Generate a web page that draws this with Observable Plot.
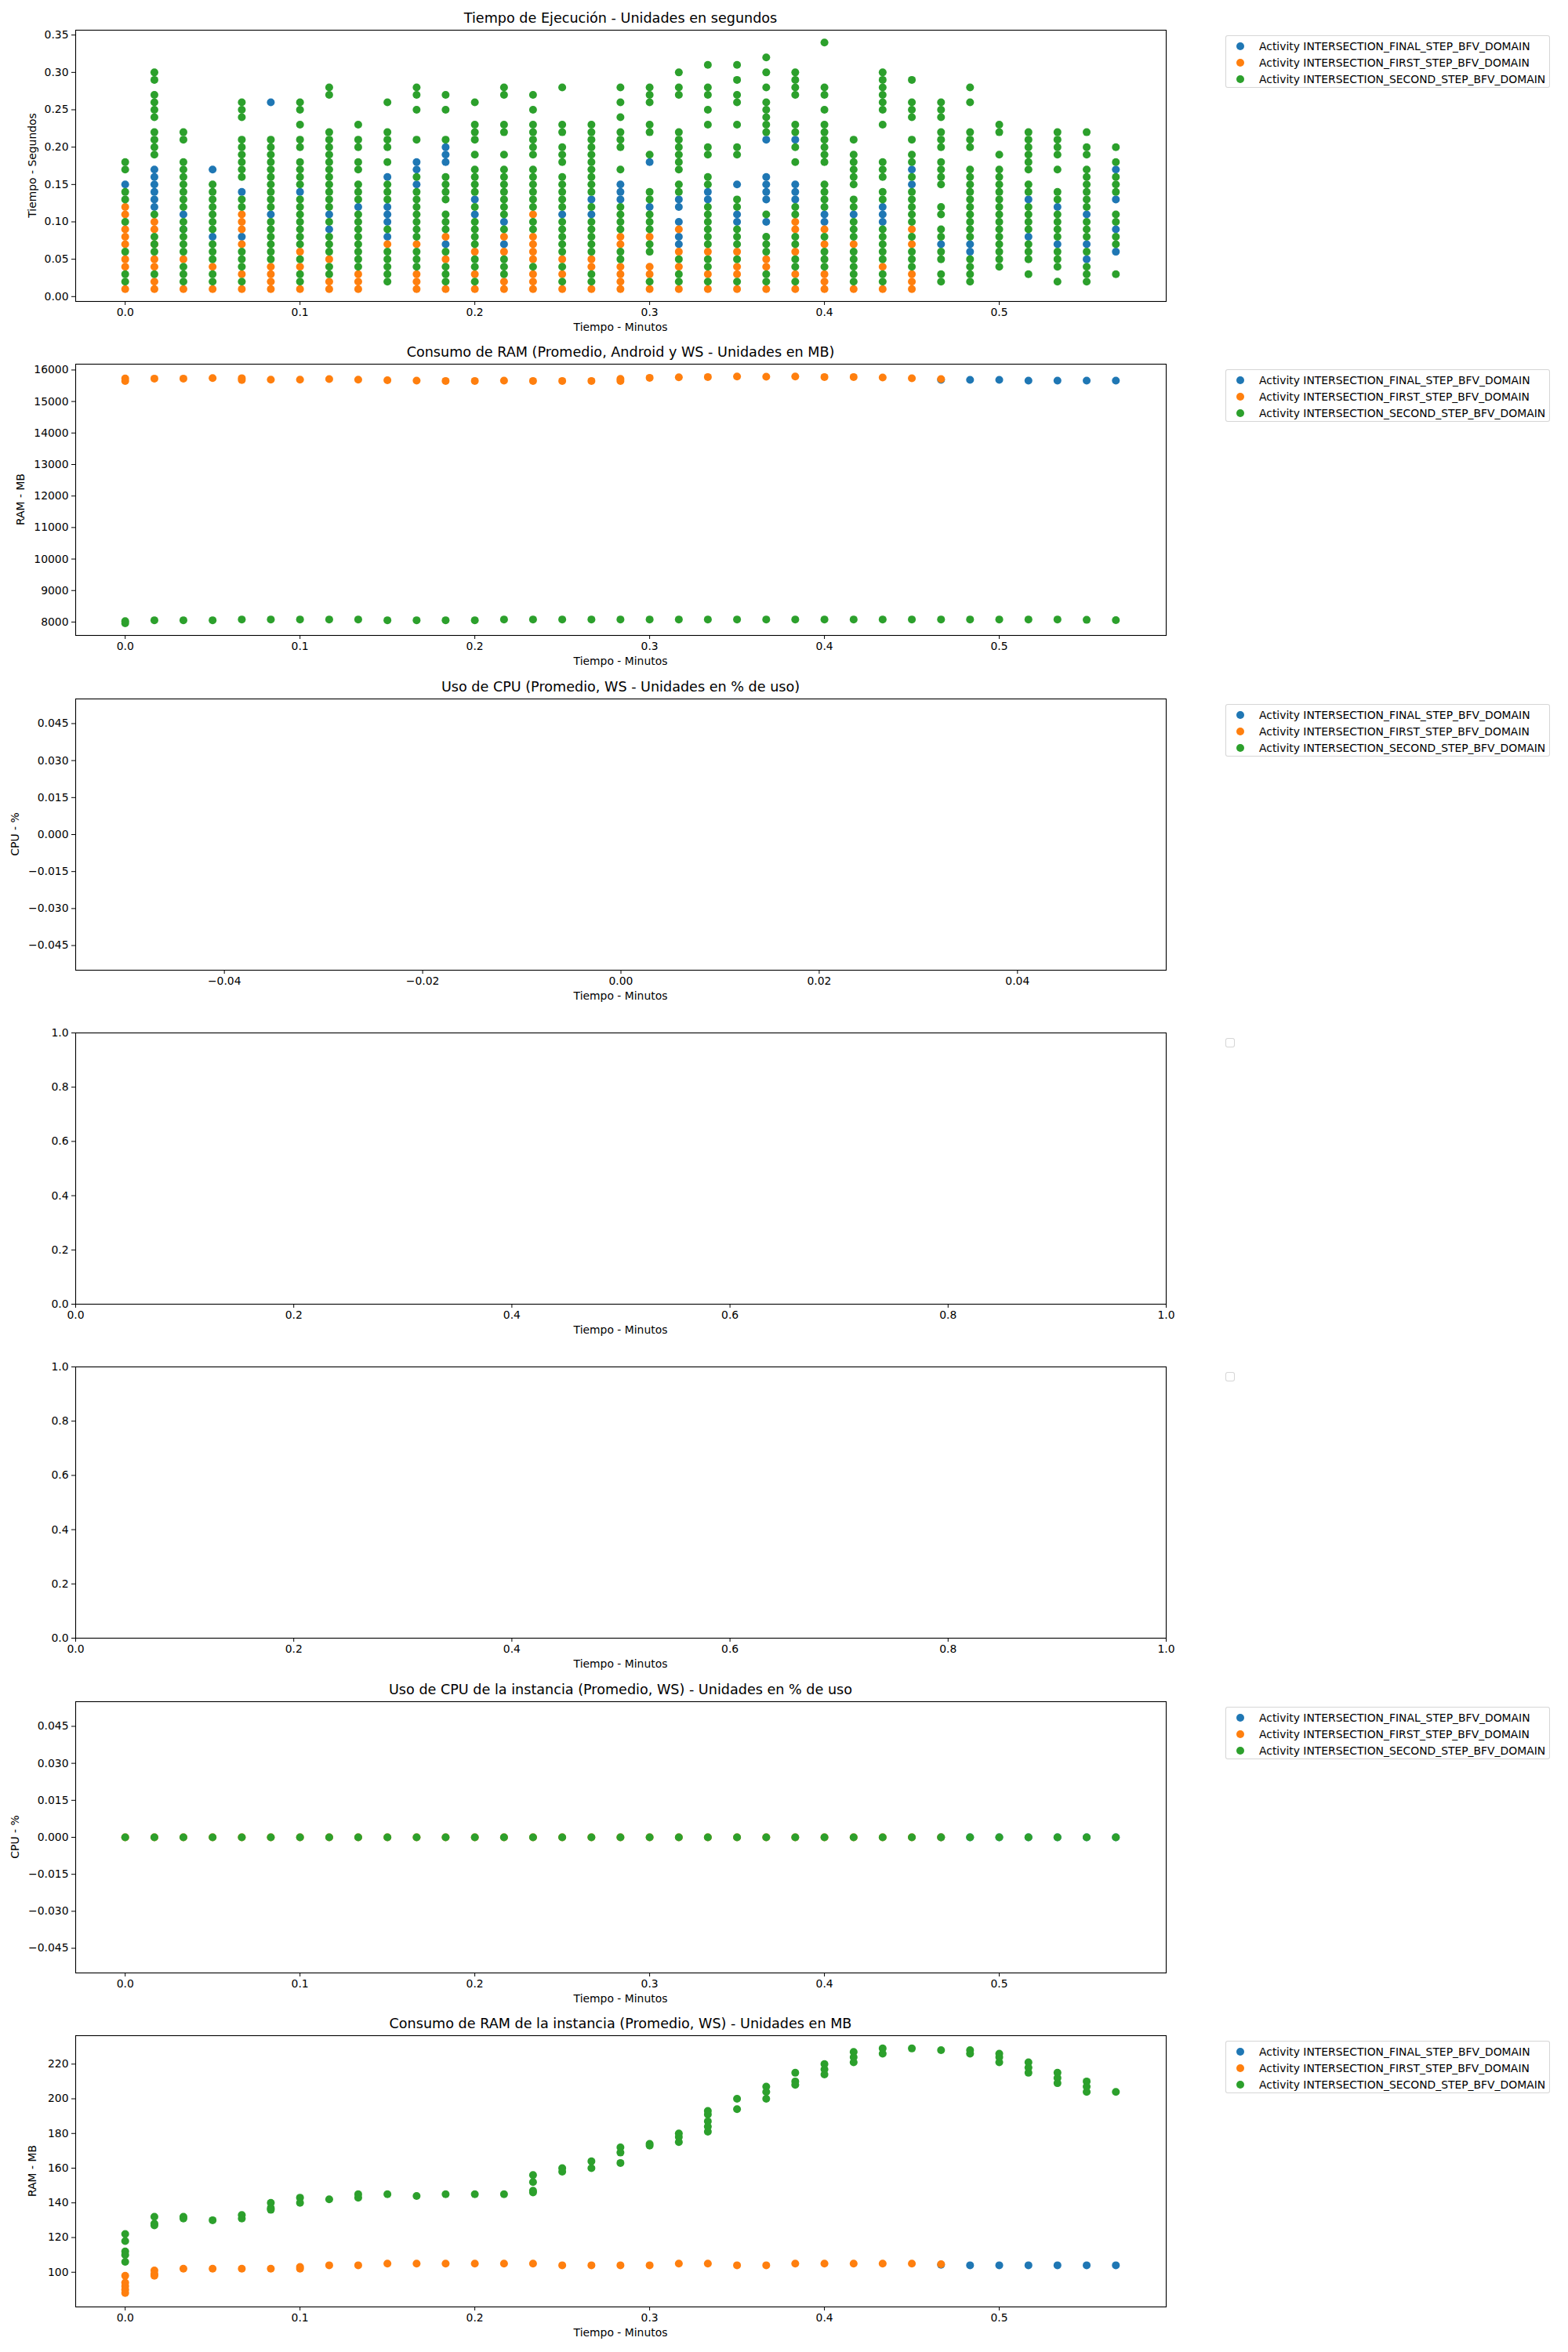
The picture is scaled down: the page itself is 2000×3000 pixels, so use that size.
<!DOCTYPE html>
<html><head><meta charset="utf-8">
<script src="https://cdn.jsdelivr.net/npm/d3@7"></script>
<script src="https://cdn.jsdelivr.net/npm/@observablehq/plot@0.6"></script>
<style>
html,body{margin:0;padding:0;background:#fff;overflow:hidden;}
#root{position:relative;width:2000px;height:3000px;background:#fff;font-family:"DejaVu Sans",sans-serif;color:#000;}
.lbl{position:absolute;white-space:nowrap;transform:translate(-50%,-50%);line-height:1;}
.ttl{font-size:17.6px;}
.axl{font-size:13.9px;}
.rot{transform:translate(-50%,-50%) rotate(-90deg);}
</style></head>
<body><div id="root"></div>
<script>
// ---------- DATA ----------
const minutos = [0, 0.0167, 0.0333, 0.05, 0.0667, 0.0833, 0.1, 0.1167, 0.1333, 0.15, 0.1667, 0.1833, 0.2, 0.2167, 0.2333, 0.25, 0.2667, 0.2833, 0.3, 0.3167, 0.3333, 0.35, 0.3667, 0.3833, 0.4, 0.4167, 0.4333, 0.45, 0.4667, 0.4833, 0.5, 0.5167, 0.5333, 0.55, 0.5667];
const actividades = ["Activity INTERSECTION_FINAL_STEP_BFV_DOMAIN", "Activity INTERSECTION_FIRST_STEP_BFV_DOMAIN", "Activity INTERSECTION_SECOND_STEP_BFV_DOMAIN"];

// Tiempo de ejecución (centésimas de segundo) por columna de tiempo
const tiempoFinal = [[15],[17,16,15,14,13,12],[11,9],[17,8],[14,8],[26,11],[14],[11,9],[12],[16,12,11,10,8],[18,17,15],[20,19,18,7],[13,11],[10,7],[],[11],[13,11],[15,14,13],[18,12],[13,12,10,8,7],[14,13],[15,11,10],[21,16,15,14,13,10],[21,15,14,13],[11,10],[11],[12,11,10],[17,15],[7],[7,6],[],[13,8],[12,7],[11,7,5],[17,13,9,6]];
const tiempoFirst = [[12,11,9,8,7,5,4,1],[10,9,7,5,4,2,1],[5,1],[4,1],[11,10,9,7,3,1],[4,3,2,1],[6,4,1],[5,2,1],[3,2,1],[7],[7,3,2,1],[8,5,1],[6,3,1],[8,6,2,1],[11,8,7,6,5,3,2,1],[5,3,1],[5,4,1],[8,7,4,3,2,1],[8,4,3,1],[9,6,4,1],[6,3,1],[6,4,3,1],[5,4,1],[10,9,6,3,1],[9,7,3,2,1],[7,1],[4,1],[9,7,3,2,1],[],[],[],[],[],[],[]];
const tiempoSecond = [
 [18,17,14,13,10,6,3,2],
 [30,29,27,26,25,24,22,21,20,19,11,8,7,6,3],
 [22,21,18,17,16,15,14,13,12,10,9,8,7,6,4,3,2],
 [15,14,13,12,11,10,9,7,6,5,3,2],
 [26,25,24,21,20,19,18,17,16,13,12,6,5,4,2],
 [21,20,19,18,17,16,15,14,13,12,10,9,8,7,6,5],
 [26,25,23,21,20,18,17,16,15,13,12,11,10,9,8,7,5,3,2],
 [28,27,22,21,20,19,18,17,16,15,14,13,12,10,8,7,6,4,3],
 [23,21,20,18,17,15,14,13,11,10,9,8,7,6,5,4],
 [26,22,21,20,18,15,14,13,9,6,5,4,3,2],
 [28,27,25,21,16,14,13,12,11,10,9,8,6,5,4],
 [27,25,21,16,15,14,13,11,10,9,6,4,3,2],
 [26,23,22,21,19,17,16,15,14,12,10,9,8,7,5,4,2],
 [28,27,23,22,19,17,16,15,14,13,12,11,9,5,4,3],
 [27,25,23,22,21,20,19,17,16,15,14,13,12,10,9,4],
 [28,23,22,20,19,18,16,15,14,13,12,10,9,8,7,6,4,2],
 [23,22,21,20,19,18,17,16,15,14,12,10,9,8,7,6,3,2],
 [28,26,24,22,21,20,17,12,11,10,9,6,5],
 [28,27,26,23,22,19,14,13,11,10,9,7,6,2],
 [30,28,27,22,21,20,19,18,17,15,14,5,3,2],
 [31,28,27,25,23,20,19,16,15,12,11,10,9,8,7,5,4,2],
 [31,29,27,26,23,20,19,13,12,9,8,7,5,2],
 [32,30,28,26,25,24,23,22,11,8,7,6,3,2],
 [30,29,28,27,23,22,20,18,12,11,8,7,5,4,2],
 [34,28,27,25,23,22,21,20,19,18,15,14,13,12,8,6,5,4],
 [21,19,18,17,16,15,13,12,10,9,8,6,5,4,3,2],
 [30,29,28,27,26,25,23,18,17,16,14,13,9,8,7,6,5,3,2],
 [29,26,25,24,21,19,18,16,14,13,12,11,10,8,6,5,4],
 [26,25,24,22,21,20,18,17,16,15,12,11,9,8,6,5,3,2],
 [28,26,22,21,20,17,16,15,14,13,12,11,10,9,8,5,4,3,2],
 [23,22,19,17,16,15,14,13,12,11,10,9,8,7,6,5,4],
 [22,21,20,19,18,17,15,14,12,11,10,9,7,6,5,3],
 [22,21,20,19,17,14,13,11,10,9,8,6,5,4,2],
 [22,20,19,17,16,15,14,13,12,10,9,8,6,4,3,2],
 [20,18,16,15,14,11,10,8,7,3]
];

// Consumo de RAM (Promedio, Android y WS) en MB
const ramFinal = [[],[],[],[],[],[],[],[],[],[],[],[],[],[],[],[],[],[],[],[],[],[],[],[],[],[],[],[],[15690],[15686],[15686],[15661],[15661],[15661],[15661]];
const ramFirst = [[15650,15730],[15727],[15727],[15744],[15680,15740],[15694],[15694],[15710],[15694],[15677],[15661],[15653],[15653],[15661],[15653],[15653],[15653],[15650,15720],[15752],[15769],[15777],[15794],[15785],[15794],[15777],[15777],[15760],[15735],[15710],[],[],[],[],[],[]];
const ramSecond = [[7960,8030],[8057],[8057],[8057],[8082],[8082],[8082],[8082],[8082],[8057],[8057],[8057],[8057],[8082],[8082],[8082],[8082],[8082],[8082],[8082],[8082],[8082],[8082],[8082],[8082],[8082],[8082],[8082],[8082],[8082],[8082],[8082],[8082],[8070],[8060]];

// Uso de CPU de la instancia (%)
const cpuFinal = [[],[],[],[],[],[],[],[],[],[],[],[],[],[],[],[],[],[],[],[],[],[],[],[],[],[],[],[],[0],[0],[0],[0],[0],[0],[0]];
const cpuFirst = [[0],[0],[0],[0],[0],[0],[0],[0],[0],[0],[0],[0],[0],[0],[0],[0],[0],[0],[0],[0],[0],[0],[0],[0],[0],[0],[0],[0],[0],[],[],[],[],[],[]];
const cpuSecond = [[0],[0],[0],[0],[0],[0],[0],[0],[0],[0],[0],[0],[0],[0],[0],[0],[0],[0],[0],[0],[0],[0],[0],[0],[0],[0],[0],[0],[0],[0],[0],[0],[0],[0],[0]];

// Consumo de RAM de la instancia (MB)
const ramInstFinal = [[],[],[],[],[],[],[],[],[],[],[],[],[],[],[],[],[],[],[],[],[],[],[],[],[],[],[],[],[104.3],[104],[104],[104],[104],[104],[104]];
const ramInstFirst = [[98,94,92,90,88],[101,99,98],[102],[102],[102],[102],[103,102],[104],[104],[105],[105],[105],[105],[105],[105],[104],[104],[104],[104],[105],[105],[104],[104],[105],[105],[105],[105],[105],[104.6],[],[],[],[],[],[]];
const ramInstSecond = [[122,118,112,110,106],[132,128,127],[132,131],[130],[133,131],[140,137,136],[143,140],[142],[145,143],[145],[144],[145],[145],[145],[156,152,147,146],[160,158],[164,160],[172,169,163],[174,173],[180,178,175],[193,191,187,184,181],[200,194],[207,204,200],[215,210,208],[220,217,214],[227,224,221],[229,226],[229],[228],[228,226],[226,224,221],[221,218,215],[215,212,209],[210,207,204],[204]];

// Tick values
const ticksMin = [0, 0.1, 0.2, 0.3, 0.4, 0.5];
const ticksTiempo = [0, 0.05, 0.1, 0.15, 0.2, 0.25, 0.3, 0.35];
const ticksRam = [8000, 9000, 10000, 11000, 12000, 13000, 14000, 15000, 16000];
const ticksCpu = [-0.045, -0.03, -0.015, 0, 0.015, 0.03, 0.045];
const ticksCpuX = [-0.04, -0.02, 0, 0.02, 0.04];
const ticksUnit = [0, 0.2, 0.4, 0.6, 0.8, 1];
const ticksRamInst = [100, 120, 140, 160, 180, 200, 220];

// ---------- DRAW ----------
const colores = ["#1f77b4", "#ff7f0e", "#2ca02c"];
const root = document.getElementById("root");
const FL = 96, FR = 1487, FH = 346, MT = 26, MB = 54;
const CX = (FL + FR) / 2;

function pts(cols, scale = 1) {
  const out = [];
  cols.forEach((vals, i) => vals.forEach(v => out.push({x: minutos[i], y: v / scale})));
  return out;
}

function addText(txt, x, y, cls) {
  const d = document.createElement("div");
  d.className = "lbl " + cls;
  d.style.left = x + "px"; d.style.top = y + "px";
  d.textContent = txt;
  root.appendChild(d);
}

function addLegend(frameTop, withItems) {
  const box = document.createElement("div");
  box.style.cssText = `position:absolute;left:1563px;top:${frameTop + 7}px;width:${withItems ? 414 : 12}px;height:${withItems ? 67 : 12}px;border:1px solid rgba(204,204,204,0.8);border-radius:3px;background:rgba(255,255,255,0.8);box-sizing:border-box;`;
  if (withItems) {
    actividades.forEach((name, i) => {
      const cy = 13 + 21 * i;
      const s = document.createElementNS("http://www.w3.org/2000/svg", "svg");
      s.setAttribute("width", 12); s.setAttribute("height", 12);
      s.style.cssText = `position:absolute;left:12px;top:${cy - 6}px;`;
      const c = document.createElementNS("http://www.w3.org/2000/svg", "circle");
      c.setAttribute("cx", 6); c.setAttribute("cy", 6); c.setAttribute("r", 5); c.setAttribute("fill", colores[i]);
      s.appendChild(c); box.appendChild(s);
      const t = document.createElement("div");
      t.style.cssText = `position:absolute;left:42px;top:${cy - 8}px;height:16px;line-height:16px;font-size:13.9px;white-space:nowrap;`;
      t.textContent = name;
      box.appendChild(t);
    });
  }
  root.appendChild(box);
}

function panel(o) {
  const marks = [];
  (o.layers || []).forEach((l, i) => marks.push(Plot.dot(l, {x: "x", y: "y", r: 5, fill: colores[i]})));
  marks.push(Plot.frame({stroke: "black", strokeWidth: 1.1}));
  const svg = Plot.plot({
    width: 2000, height: MT + FH + MB,
    marginTop: MT, marginBottom: MB, marginLeft: FL, marginRight: 2000 - FR,
    style: {fontFamily: "'DejaVu Sans', sans-serif", fontSize: "13.9px", background: "transparent", color: "black"},
    x: {domain: o.xd, ticks: o.xt, tickFormat: o.xf, label: null, tickSize: 5, tickPadding: 4},
    y: {domain: o.yd, ticks: o.yt, tickFormat: o.yf, label: null, tickSize: 5, tickPadding: 4},
    marks
  });
  svg.style.position = "absolute"; svg.style.left = "0px"; svg.style.top = (o.top - MT) + "px";
  svg.style.maxWidth = "none";
  root.appendChild(svg);
  if (o.title) addText(o.title, CX, o.top - 14, "ttl");
  addText("Tiempo - Minutos", CX, o.top + FH + 34, "axl");
  if (o.ylab) addText(o.ylab, o.ylx, o.top + FH / 2, "axl rot");
  addLegend(o.top, o.legend);
}

const xdMin = [-0.02834, 0.5955];

panel({top: 38, title: "Tiempo de Ejecución - Unidades en segundos", ylab: "Tiempo - Segundos", ylx: 42,
  xd: xdMin, xt: ticksMin, xf: ".1f", yd: [-0.0065, 0.3565], yt: ticksTiempo, yf: ".2f",
  layers: [pts(tiempoFinal, 100), pts(tiempoFirst, 100), pts(tiempoSecond, 100)], legend: true});

panel({top: 464, title: "Consumo de RAM (Promedio, Android y WS - Unidades en MB)", ylab: "RAM - MB", ylx: 27,
  xd: xdMin, xt: ticksMin, xf: ".1f", yd: [7575, 16185], yt: ticksRam, yf: "d",
  layers: [pts(ramFinal), pts(ramFirst), pts(ramSecond)], legend: true});

panel({top: 891, title: "Uso de CPU (Promedio, WS - Unidades en % de uso)", ylab: "CPU - %", ylx: 20,
  xd: [-0.055, 0.055], xt: ticksCpuX, xf: ".2f", yd: [-0.055, 0.055], yt: ticksCpu, yf: ".3f",
  layers: [[], [], []], legend: true});

panel({top: 1317, xd: [0, 1], xt: ticksUnit, xf: ".1f", yd: [0, 1], yt: ticksUnit, yf: ".1f", layers: [], legend: false});

panel({top: 1743, xd: [0, 1], xt: ticksUnit, xf: ".1f", yd: [0, 1], yt: ticksUnit, yf: ".1f", layers: [], legend: false});

panel({top: 2170, title: "Uso de CPU de la instancia (Promedio, WS) - Unidades en % de uso", ylab: "CPU - %", ylx: 20,
  xd: xdMin, xt: ticksMin, xf: ".1f", yd: [-0.055, 0.055], yt: ticksCpu, yf: ".3f",
  layers: [pts(cpuFinal), pts(cpuFirst), pts(cpuSecond)], legend: true});

panel({top: 2596, title: "Consumo de RAM de la instancia (Promedio, WS) - Unidades en MB", ylab: "RAM - MB", ylx: 42,
  xd: xdMin, xt: ticksMin, xf: ".1f", yd: [80, 236.4], yt: ticksRamInst, yf: "d",
  layers: [pts(ramInstFinal), pts(ramInstFirst), pts(ramInstSecond)], legend: true});
</script>
</body></html>
